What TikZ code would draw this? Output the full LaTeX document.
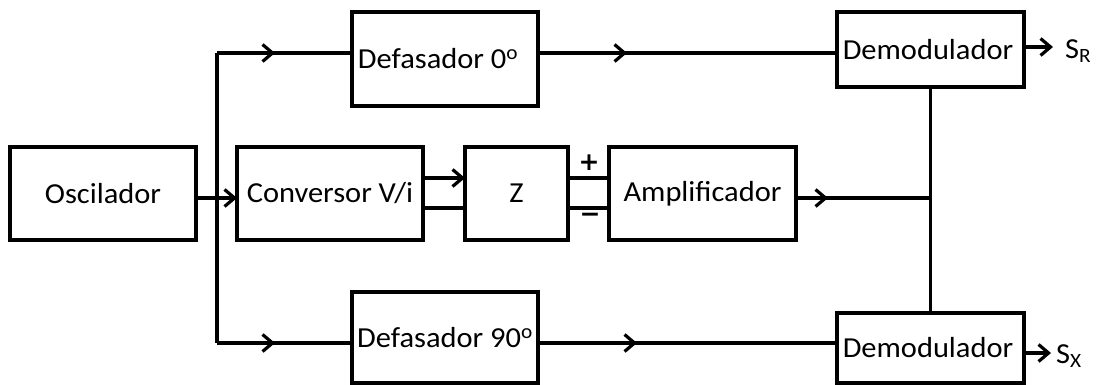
\documentclass[tikz,border=0pt]{standalone}
\usepackage{fontspec}
\setmainfont[FakeStretch=1.05]{Carlito}
\newfontfamily\dvsans{DejaVu Sans}
\usetikzlibrary{arrows.meta,decorations.markings}
\begin{document}
\begin{tikzpicture}[x=1pt,y=-1pt,
  blk/.style={draw,line width=3.4pt,inner sep=0pt,outer sep=0pt,font=\fontsize{29}{32}\selectfont},
  wire/.style={line width=3.2pt},
  tip/.style={-{Straight Barb[length=10pt,width=17pt,line width=3.2pt]}},
  midarrow/.style={decoration={markings,mark=at position #1 with {\arrow{Straight Barb[length=10pt,width=17pt,line width=3.2pt]}}},postaction={decorate}},
  lbl/.style={inner sep=0pt,font=\fontsize{29}{32}\selectfont},
  sgn/.style={inner sep=0pt,font=\dvsans\bfseries\fontsize{25}{28}\selectfont}]
\useasboundingbox (0,0) rectangle (1097,385);
% blocks
\node[blk,minimum width=186pt,minimum height=93pt] (osc) at (103,193.5) {Oscilador};
\node[blk,minimum width=186pt,minimum height=93pt] (conv) at (330,193.5) {Conversor V/i};
\node[blk,minimum width=103pt,minimum height=93pt] (z) at (516.5,193.5) {Z};
\node[blk,minimum width=187pt,minimum height=93pt] (amp) at (702.5,193.5) {Amplificador};
\node[blk,minimum width=186pt,minimum height=94pt] (def0) at (445,59) {Defasador 0\textsuperscript{o}\hspace*{14pt}};
\node[blk,minimum width=186pt,minimum height=91pt] (def90) at (445,337.5) {Defasador 90\textsuperscript{o}};
\node[blk,minimum width=187pt,minimum height=75pt] (demR) at (930.5,49.5) {Demodulador\hspace*{5pt}};
\node[blk,minimum width=187pt,minimum height=70pt] (demX) at (930.5,348) {Demodulador\hspace*{5pt}};
% levels
\coordinate (t) at (217,53);
\coordinate (b) at (217,343);
\coordinate (m) at (0,198);
\coordinate (p) at (0,178);
\coordinate (n) at (0,208);
% branch
\draw[wire] (t) -- (b);
\draw[wire,midarrow=58pt] (t) -- (t -| def0.west);
\draw[wire,midarrow=58pt] (b) -- (b -| def90.west);
\draw[wire,midarrow=89pt] (def0.east |- t) -- (t -| demR.west);
\draw[wire,midarrow=99pt] (def90.east |- b) -- (b -| demX.west);
% middle chain
\draw[wire,tip] (osc.east |- m) -- (conv.west |- m);
\draw[wire,tip] (conv.east |- p) -- (z.west |- p);
\draw[wire] (conv.east |- n) -- (z.west |- n);
\draw[wire] (z.east |- p) -- (amp.west |- p);
\draw[wire] (z.east |- n) -- (amp.west |- n);
\node[sgn] (plus) at (589,163) {+};
\node[sgn] (minus) at (590,218) {−};
\draw[wire,midarrow=32pt] (amp.east |- m) -- (demR.south |- m);
\draw[wire] (demR.south) -- (demX.north);
% outputs
\coordinate (sr) at (1053,47);
\coordinate (sx) at (1051,353);
\draw[wire,tip] (demR.east |- sr) -- (sr);
\draw[wire,tip] (demX.east |- sx) -- (sx);
\node[lbl,anchor=west] (SR) at (1065,51) {S\textsubscript{R}};
\node[lbl,anchor=west] (SX) at (1056,356) {S\textsubscript{X}};
\end{tikzpicture}
\end{document}
